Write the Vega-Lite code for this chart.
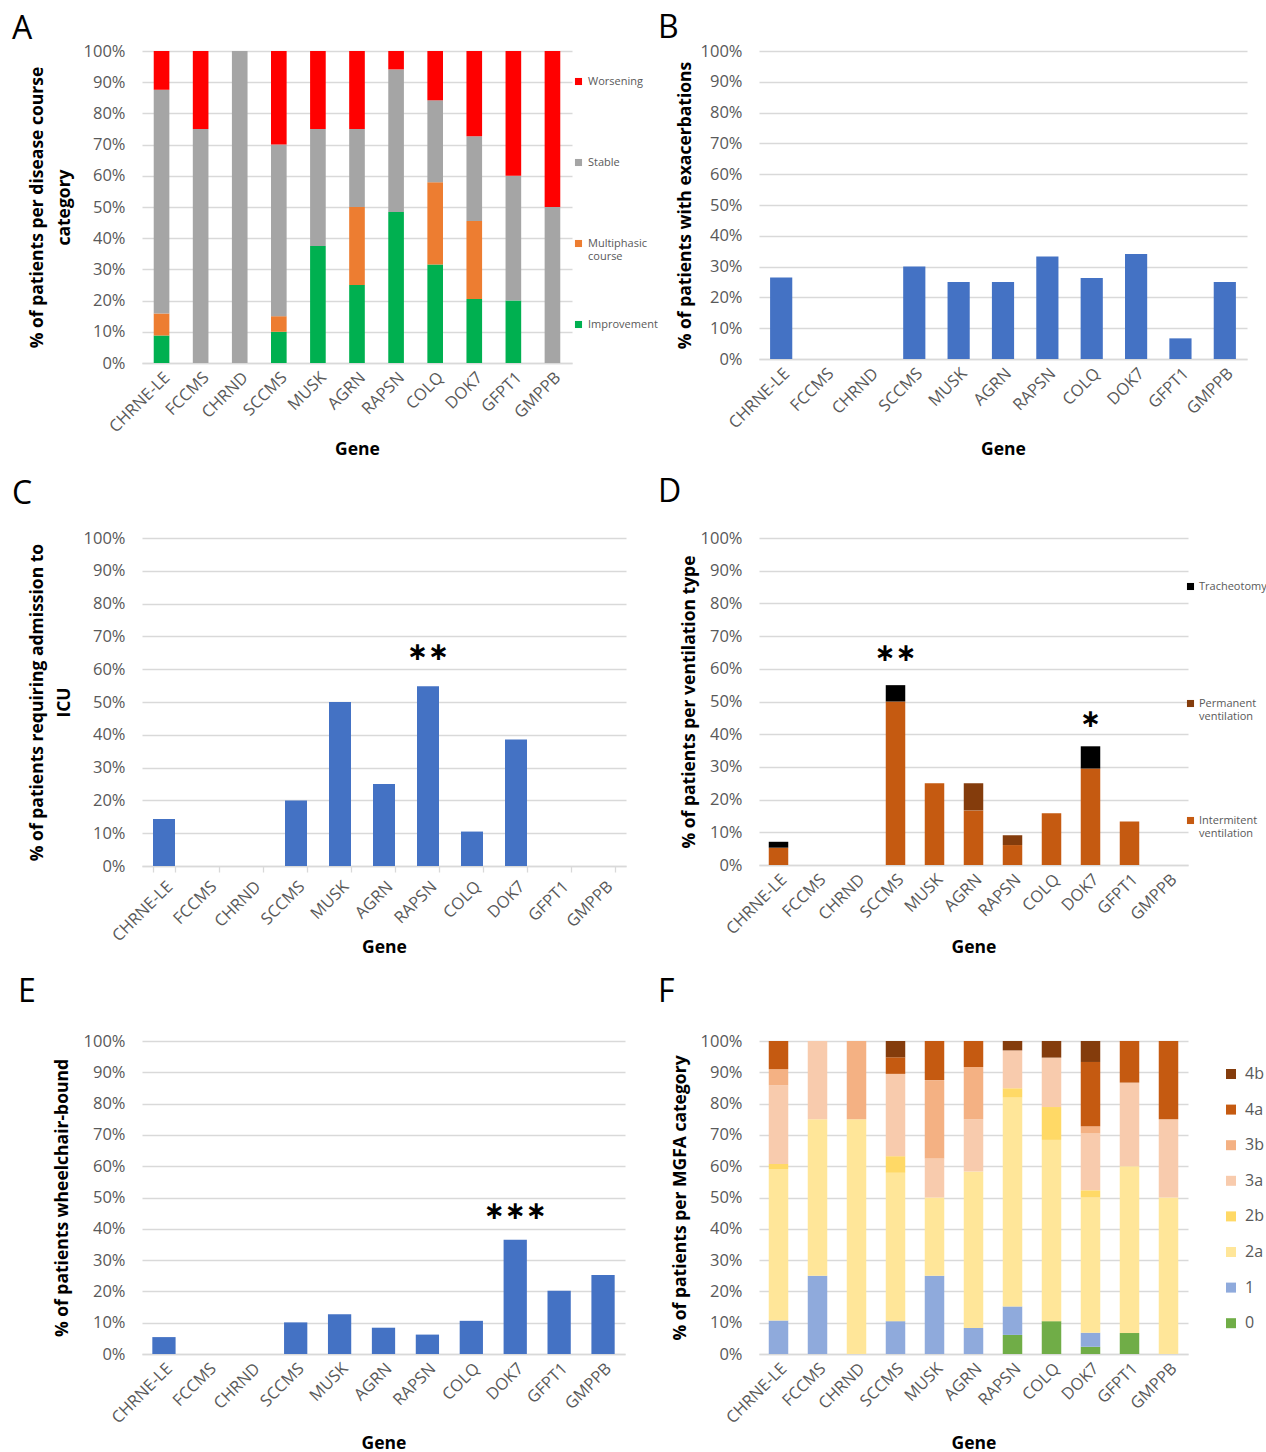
{
  "$schema": "https://vega.github.io/schema/vega-lite/v6.json",
  "background": "white",
  "padding": {"left": 12, "top": 12, "right": 5, "bottom": 5},
  "columns": 2,
  "align": "each",
  "bounds": "flush",
  "spacing": {"row": 175, "column": 133},
  "resolve": {"scale": {"color": "independent", "x": "independent", "y": "independent"}, "legend": {"color": "independent"}},
  "datasets": {
    "dA": [
      {"gene": "CHRNE-LE", "cat": "Improvement", "pct": 8.8},
      {"gene": "CHRNE-LE", "cat": "Multiphasic course", "pct": 7.1},
      {"gene": "CHRNE-LE", "cat": "Stable", "pct": 71.7},
      {"gene": "CHRNE-LE", "cat": "Worsening", "pct": 12.4},
      {"gene": "FCCMS", "cat": "Stable", "pct": 75},
      {"gene": "FCCMS", "cat": "Worsening", "pct": 25},
      {"gene": "CHRND", "cat": "Stable", "pct": 100},
      {"gene": "SCCMS", "cat": "Improvement", "pct": 10},
      {"gene": "SCCMS", "cat": "Multiphasic course", "pct": 5},
      {"gene": "SCCMS", "cat": "Stable", "pct": 55},
      {"gene": "SCCMS", "cat": "Worsening", "pct": 30},
      {"gene": "MUSK", "cat": "Improvement", "pct": 37.5},
      {"gene": "MUSK", "cat": "Stable", "pct": 37.5},
      {"gene": "MUSK", "cat": "Worsening", "pct": 25},
      {"gene": "AGRN", "cat": "Improvement", "pct": 25},
      {"gene": "AGRN", "cat": "Multiphasic course", "pct": 25},
      {"gene": "AGRN", "cat": "Stable", "pct": 25},
      {"gene": "AGRN", "cat": "Worsening", "pct": 25},
      {"gene": "RAPSN", "cat": "Improvement", "pct": 48.4},
      {"gene": "RAPSN", "cat": "Stable", "pct": 45.7},
      {"gene": "RAPSN", "cat": "Worsening", "pct": 5.9},
      {"gene": "COLQ", "cat": "Improvement", "pct": 31.6},
      {"gene": "COLQ", "cat": "Multiphasic course", "pct": 26.3},
      {"gene": "COLQ", "cat": "Stable", "pct": 26.3},
      {"gene": "COLQ", "cat": "Worsening", "pct": 15.8},
      {"gene": "DOK7", "cat": "Improvement", "pct": 20.5},
      {"gene": "DOK7", "cat": "Multiphasic course", "pct": 25},
      {"gene": "DOK7", "cat": "Stable", "pct": 27.2},
      {"gene": "DOK7", "cat": "Worsening", "pct": 27.3},
      {"gene": "GFPT1", "cat": "Improvement", "pct": 20},
      {"gene": "GFPT1", "cat": "Stable", "pct": 40},
      {"gene": "GFPT1", "cat": "Worsening", "pct": 40},
      {"gene": "GMPPB", "cat": "Stable", "pct": 50},
      {"gene": "GMPPB", "cat": "Worsening", "pct": 50}
    ],
    "dB": [
      {"gene": "CHRNE-LE", "pct": 26.5},
      {"gene": "FCCMS", "pct": 0},
      {"gene": "CHRND", "pct": 0},
      {"gene": "SCCMS", "pct": 30},
      {"gene": "MUSK", "pct": 25},
      {"gene": "AGRN", "pct": 25},
      {"gene": "RAPSN", "pct": 33.3},
      {"gene": "COLQ", "pct": 26.3},
      {"gene": "DOK7", "pct": 34.1},
      {"gene": "GFPT1", "pct": 6.7},
      {"gene": "GMPPB", "pct": 25}
    ],
    "dC": [
      {"gene": "CHRNE-LE", "pct": 14.3},
      {"gene": "FCCMS", "pct": 0},
      {"gene": "CHRND", "pct": 0},
      {"gene": "SCCMS", "pct": 20},
      {"gene": "MUSK", "pct": 50},
      {"gene": "AGRN", "pct": 25},
      {"gene": "RAPSN", "pct": 54.8},
      {"gene": "COLQ", "pct": 10.5},
      {"gene": "DOK7", "pct": 38.6},
      {"gene": "GFPT1", "pct": 0},
      {"gene": "GMPPB", "pct": 0}
    ],
    "sC": [{"gene": "RAPSN", "y": 65.3, "label": "∗∗"}],
    "dD": [
      {"gene": "CHRNE-LE", "cat": "Intermitent ventilation", "pct": 5.3},
      {"gene": "CHRNE-LE", "cat": "Tracheotomy", "pct": 1.8},
      {"gene": "SCCMS", "cat": "Intermitent ventilation", "pct": 50},
      {"gene": "SCCMS", "cat": "Tracheotomy", "pct": 5},
      {"gene": "MUSK", "cat": "Intermitent ventilation", "pct": 25},
      {"gene": "AGRN", "cat": "Intermitent ventilation", "pct": 16.7},
      {"gene": "AGRN", "cat": "Permanent ventilation", "pct": 8.3},
      {"gene": "RAPSN", "cat": "Intermitent ventilation", "pct": 6.1},
      {"gene": "RAPSN", "cat": "Permanent ventilation", "pct": 3},
      {"gene": "COLQ", "cat": "Intermitent ventilation", "pct": 15.8},
      {"gene": "DOK7", "cat": "Intermitent ventilation", "pct": 29.5},
      {"gene": "DOK7", "cat": "Tracheotomy", "pct": 6.8},
      {"gene": "GFPT1", "cat": "Intermitent ventilation", "pct": 13.3}
    ],
    "sD": [
      {"gene": "SCCMS", "y": 64.7, "label": "∗∗"},
      {"gene": "DOK7", "y": 44.7, "label": "∗"}
    ],
    "dE": [
      {"gene": "CHRNE-LE", "pct": 5.4},
      {"gene": "FCCMS", "pct": 0},
      {"gene": "CHRND", "pct": 0},
      {"gene": "SCCMS", "pct": 10.1},
      {"gene": "MUSK", "pct": 12.7},
      {"gene": "AGRN", "pct": 8.4},
      {"gene": "RAPSN", "pct": 6.2},
      {"gene": "COLQ", "pct": 10.6},
      {"gene": "DOK7", "pct": 36.5},
      {"gene": "GFPT1", "pct": 20.2},
      {"gene": "GMPPB", "pct": 25.2}
    ],
    "sE": [{"gene": "DOK7", "y": 45.8, "label": "∗∗∗"}],
    "dF": [
      {"gene": "CHRNE-LE", "cat": "1", "pct": 10.7},
      {"gene": "CHRNE-LE", "cat": "2a", "pct": 48.4},
      {"gene": "CHRNE-LE", "cat": "2b", "pct": 1.6},
      {"gene": "CHRNE-LE", "cat": "3a", "pct": 25.1},
      {"gene": "CHRNE-LE", "cat": "3b", "pct": 5.2},
      {"gene": "CHRNE-LE", "cat": "4a", "pct": 9.0},
      {"gene": "FCCMS", "cat": "1", "pct": 25},
      {"gene": "FCCMS", "cat": "2a", "pct": 50},
      {"gene": "FCCMS", "cat": "3a", "pct": 25},
      {"gene": "CHRND", "cat": "2a", "pct": 75},
      {"gene": "CHRND", "cat": "3b", "pct": 25},
      {"gene": "SCCMS", "cat": "1", "pct": 10.5},
      {"gene": "SCCMS", "cat": "2a", "pct": 47.4},
      {"gene": "SCCMS", "cat": "2b", "pct": 5.3},
      {"gene": "SCCMS", "cat": "3a", "pct": 26.3},
      {"gene": "SCCMS", "cat": "4a", "pct": 5.3},
      {"gene": "SCCMS", "cat": "4b", "pct": 5.2},
      {"gene": "MUSK", "cat": "1", "pct": 25},
      {"gene": "MUSK", "cat": "2a", "pct": 25},
      {"gene": "MUSK", "cat": "3a", "pct": 12.5},
      {"gene": "MUSK", "cat": "3b", "pct": 25},
      {"gene": "MUSK", "cat": "4a", "pct": 12.5},
      {"gene": "AGRN", "cat": "1", "pct": 8.3},
      {"gene": "AGRN", "cat": "2a", "pct": 50},
      {"gene": "AGRN", "cat": "3a", "pct": 16.7},
      {"gene": "AGRN", "cat": "3b", "pct": 16.7},
      {"gene": "AGRN", "cat": "4a", "pct": 8.3},
      {"gene": "RAPSN", "cat": "0", "pct": 6.1},
      {"gene": "RAPSN", "cat": "1", "pct": 9.1},
      {"gene": "RAPSN", "cat": "2a", "pct": 66.7},
      {"gene": "RAPSN", "cat": "2b", "pct": 3.0},
      {"gene": "RAPSN", "cat": "3a", "pct": 12.1},
      {"gene": "RAPSN", "cat": "4b", "pct": 3.0},
      {"gene": "COLQ", "cat": "0", "pct": 10.5},
      {"gene": "COLQ", "cat": "2a", "pct": 57.9},
      {"gene": "COLQ", "cat": "2b", "pct": 10.5},
      {"gene": "COLQ", "cat": "3a", "pct": 15.8},
      {"gene": "COLQ", "cat": "4b", "pct": 5.3},
      {"gene": "DOK7", "cat": "0", "pct": 2.3},
      {"gene": "DOK7", "cat": "1", "pct": 4.5},
      {"gene": "DOK7", "cat": "2a", "pct": 43.2},
      {"gene": "DOK7", "cat": "2b", "pct": 2.3},
      {"gene": "DOK7", "cat": "3a", "pct": 18.2},
      {"gene": "DOK7", "cat": "3b", "pct": 2.3},
      {"gene": "DOK7", "cat": "4a", "pct": 20.5},
      {"gene": "DOK7", "cat": "4b", "pct": 6.7},
      {"gene": "GFPT1", "cat": "0", "pct": 6.7},
      {"gene": "GFPT1", "cat": "2a", "pct": 53.3},
      {"gene": "GFPT1", "cat": "3a", "pct": 26.7},
      {"gene": "GFPT1", "cat": "4a", "pct": 13.3},
      {"gene": "GMPPB", "cat": "2a", "pct": 50},
      {"gene": "GMPPB", "cat": "3a", "pct": 25},
      {"gene": "GMPPB", "cat": "4a", "pct": 25}
    ]
  },
  "concat": [
    {
      "width": 430,
      "height": 312,
      "title": {"text": "A", "dx": -130, "offset": -3},
      "data": {"name": "dA"},
      "mark": {"type": "bar"},
      "encoding": {
        "x": {"field": "gene", "type": "nominal", "scale": {"domain": ["CHRNE-LE", "FCCMS", "CHRND", "SCCMS", "MUSK", "AGRN", "RAPSN", "COLQ", "DOK7", "GFPT1", "GMPPB"], "paddingInner": 0.6, "paddingOuter": 0.3}, "axis": {"title": "Gene", "titlePadding": 5}},
        "y": {"field": "pct", "type": "quantitative", "stack": "zero", "scale": {"domain": [0, 100], "nice": false}, "axis": {"title": ["% of patients per disease course", "category"], "titlePadding": 10, "values": [0, 10, 20, 30, 40, 50, 60, 70, 80, 90, 100], "labelExpr": "datum.value + '%'"}},
        "color": {"field": "cat", "type": "nominal", "scale": {"domain": ["Worsening", "Stable", "Multiphasic course", "Improvement"], "range": ["#FF0000", "#A5A5A5", "#ED7D31", "#00B050"]}, "legend": {"title": null, "orient": "none", "legendX": 431, "legendY": 25, "symbolSize": 50, "labelFontSize": 11, "rowPadding": 56, "labelLimit": 200, "labelOffset": 4, "labelExpr": "datum.label == 'Multiphasic course' ? ['Multiphasic', 'course'] : [datum.label, '']"}},
        "order": {"field": "cat", "type": "ordinal", "sort": "ascending"}
      }
    },
    {
      "width": 488,
      "height": 308,
      "title": {"text": "B", "dx": -101, "offset": -2},
      "data": {"name": "dB"},
      "mark": {"type": "bar", "color": "#4472C4"},
      "encoding": {
        "x": {"field": "gene", "type": "nominal", "scale": {"domain": ["CHRNE-LE", "FCCMS", "CHRND", "SCCMS", "MUSK", "AGRN", "RAPSN", "COLQ", "DOK7", "GFPT1", "GMPPB"], "paddingInner": 0.5, "paddingOuter": 0.25}, "axis": {"title": "Gene", "titlePadding": 9}},
        "y": {"field": "pct", "type": "quantitative", "scale": {"domain": [0, 100], "nice": false}, "axis": {"title": "% of patients with exacerbations", "titlePadding": 6, "values": [0, 10, 20, 30, 40, 50, 60, 70, 80, 90, 100], "labelExpr": "datum.value + '%'"}}
      }
    },
    {
      "width": 484,
      "height": 328,
      "title": {"text": "C", "dx": -130, "offset": 19},
      "resolve": {"axis": {"y": "independent"}},
      "encoding": {
        "x": {"field": "gene", "type": "nominal", "scale": {"domain": ["CHRNE-LE", "FCCMS", "CHRND", "SCCMS", "MUSK", "AGRN", "RAPSN", "COLQ", "DOK7", "GFPT1", "GMPPB"], "paddingInner": 0.5, "paddingOuter": 0.25}, "axis": {"title": "Gene", "titlePadding": -6, "ticks": true, "tickBand": "extent", "tickColor": "#D9D9D9", "tickSize": 6, "tickWidth": 1.3}}
      },
      "layer": [
        {
          "data": {"name": "dC"},
          "mark": {"type": "bar", "color": "#4472C4"},
          "encoding": {
            "y": {"field": "pct", "type": "quantitative", "scale": {"domain": [0, 100], "nice": false}, "axis": {"title": ["% of patients requiring admission to", "ICU"], "titlePadding": 10, "values": [0, 10, 20, 30, 40, 50, 60, 70, 80, 90, 100], "labelExpr": "datum.value + '%'"}}
          }
        },
        {
          "data": {"name": "sC"},
          "mark": {"type": "text", "fontSize": 25, "font": "DejaVu Sans", "fontWeight": "bold", "baseline": "middle", "color": "#000000"},
          "encoding": {
            "y": {"field": "y", "type": "quantitative", "scale": {"domain": [0, 100], "nice": false}, "axis": null},
            "text": {"field": "label"}
          }
        }
      ]
    },
    {
      "width": 429,
      "height": 327,
      "title": {"text": "D", "dx": -101, "offset": 21},
      "resolve": {"axis": {"y": "independent"}},
      "encoding": {
        "x": {"field": "gene", "type": "nominal", "scale": {"domain": ["CHRNE-LE", "FCCMS", "CHRND", "SCCMS", "MUSK", "AGRN", "RAPSN", "COLQ", "DOK7", "GFPT1", "GMPPB"], "paddingInner": 0.5, "paddingOuter": 0.25}, "axis": {"title": "Gene", "titlePadding": 1}}
      },
      "layer": [
        {
          "data": {"name": "dD"},
          "mark": {"type": "bar"},
          "encoding": {
            "y": {"field": "pct", "type": "quantitative", "stack": "zero", "scale": {"domain": [0, 100], "nice": false}, "axis": {"title": "% of patients per ventilation type", "titlePadding": 2, "values": [0, 10, 20, 30, 40, 50, 60, 70, 80, 90, 100], "labelExpr": "datum.value + '%'"}},
            "color": {"field": "cat", "type": "nominal", "scale": {"domain": ["Tracheotomy", "Permanent ventilation", "Intermitent ventilation"], "range": ["#000000", "#843C0C", "#C55A11"]}, "legend": {"title": null, "orient": "none", "legendX": 426, "legendY": 43, "symbolSize": 50, "labelFontSize": 11, "rowPadding": 92, "labelLimit": 200, "labelOffset": 3, "labelExpr": "datum.label == 'Permanent ventilation' ? ['Permanent', 'ventilation'] : datum.label == 'Intermitent ventilation' ? ['Intermitent', 'ventilation'] : [datum.label, '']"}},
            "order": {"field": "cat", "type": "ordinal", "sort": "ascending"}
          }
        },
        {
          "data": {"name": "sD"},
          "mark": {"type": "text", "fontSize": 25, "font": "DejaVu Sans", "fontWeight": "bold", "baseline": "middle", "color": "#000000"},
          "encoding": {
            "y": {"field": "y", "type": "quantitative", "scale": {"domain": [0, 100], "nice": false}, "axis": null},
            "text": {"field": "label"}
          }
        }
      ]
    },
    {
      "width": 483,
      "height": 313,
      "title": {"text": "E", "dx": -124, "offset": 24},
      "resolve": {"axis": {"y": "independent"}},
      "encoding": {
        "x": {"field": "gene", "type": "nominal", "scale": {"domain": ["CHRNE-LE", "FCCMS", "CHRND", "SCCMS", "MUSK", "AGRN", "RAPSN", "COLQ", "DOK7", "GFPT1", "GMPPB"], "paddingInner": 0.47, "paddingOuter": 0.235}, "axis": {"title": "Gene", "titlePadding": 8}}
      },
      "layer": [
        {
          "data": {"name": "dE"},
          "mark": {"type": "bar", "color": "#4472C4"},
          "encoding": {
            "y": {"field": "pct", "type": "quantitative", "scale": {"domain": [0, 100], "nice": false}, "axis": {"title": "% of patients wheelchair-bound", "titlePadding": 12, "values": [0, 10, 20, 30, 40, 50, 60, 70, 80, 90, 100], "labelExpr": "datum.value + '%'"}}
          }
        },
        {
          "data": {"name": "sE"},
          "mark": {"type": "text", "fontSize": 25, "font": "DejaVu Sans", "fontWeight": "bold", "baseline": "middle", "color": "#000000"},
          "encoding": {
            "y": {"field": "y", "type": "quantitative", "scale": {"domain": [0, 100], "nice": false}, "axis": null},
            "text": {"field": "label"}
          }
        }
      ]
    },
    {
      "width": 429,
      "height": 313,
      "title": {"text": "F", "dx": -101, "offset": 24},
      "data": {"name": "dF"},
      "mark": {"type": "bar"},
      "encoding": {
        "x": {"field": "gene", "type": "nominal", "scale": {"domain": ["CHRNE-LE", "FCCMS", "CHRND", "SCCMS", "MUSK", "AGRN", "RAPSN", "COLQ", "DOK7", "GFPT1", "GMPPB"], "paddingInner": 0.5, "paddingOuter": 0.25}, "axis": {"title": "Gene", "titlePadding": 8}},
        "y": {"field": "pct", "type": "quantitative", "stack": "zero", "scale": {"domain": [0, 100], "nice": false}, "axis": {"title": "% of patients per MGFA category", "titlePadding": 11, "values": [0, 10, 20, 30, 40, 50, 60, 70, 80, 90, 100], "labelExpr": "datum.value + '%'"}},
        "color": {"field": "cat", "type": "nominal", "scale": {"domain": ["4b", "4a", "3b", "3a", "2b", "2a", "1", "0"], "range": ["#843C0C", "#C55A11", "#F4B183", "#F8CBAD", "#FFD966", "#FFE699", "#8FAADC", "#70AD47"]}, "legend": {"title": null, "orient": "none", "legendX": 464, "legendY": 25, "symbolSize": 100, "labelFontSize": 16, "rowPadding": 19.6, "labelOffset": 6}},
        "order": {"field": "cat", "type": "ordinal", "sort": "ascending"}
      }
    }
  ],
  "config": {
    "font": "Open Sans",
    "view": {"stroke": null},
    "axis": {"labelFont": "Open Sans", "labelFontSize": 16.5, "labelColor": "#595959", "titleFont": "Open Sans", "titleFontWeight": "bold", "titleColor": "#000000", "titleFontSize": 17.5, "gridColor": "#D9D9D9", "gridWidth": 1.3, "domainColor": "#D9D9D9", "domainWidth": 1.3, "ticks": false},
    "axisY": {"domain": false, "labelPadding": 17, "titlePadding": 8, "titleLineHeight": 27},
    "axisX": {"grid": false, "labelAngle": -45, "labelPadding": 6, "titleFontSize": 17.5, "titlePadding": 4},
    "title": {"fontSize": 32, "fontWeight": "normal", "anchor": "start", "frame": "group", "color": "#000000", "font": "Open Sans"},
    "legend": {"labelColor": "#595959", "labelFont": "Open Sans", "symbolType": "square", "symbolStrokeWidth": 0}
  }
}
